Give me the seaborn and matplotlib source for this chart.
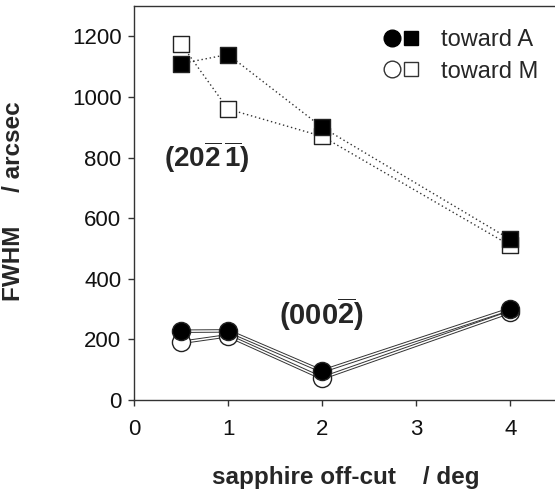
import numpy as np
import pandas as pd
import seaborn as sns
import matplotlib
matplotlib.use("Agg")
import matplotlib.pyplot as plt
from matplotlib.lines import Line2D
from matplotlib.legend_handler import HandlerTuple

# sapphire off-cut angles (deg)
offcut = [0.5, 1, 2, 4]

# (20-2-1) reflection FWHM (arcsec)
fwhm_2021_A = [1110, 1140, 900, 530]
fwhm_2021_M = [1175, 960, 870, 510]

# (000-2) reflection FWHM (arcsec)
fwhm_0002_A = [227, 228, 95, 300]
fwhm_0002_M = [190, 212, 72, 290]

x_ticks = [0, 1, 2, 3, 4]
y_ticks = [0, 200, 400, 600, 800, 1000, 1200]

sns.set_theme(style="white")
plt.rcParams["font.family"] = ["Liberation Sans", "DejaVu Sans"]
plt.rcParams["mathtext.fontset"] = "custom"
plt.rcParams["mathtext.rm"] = "Liberation Sans:bold"
plt.rcParams["mathtext.bf"] = "Liberation Sans:bold"

df = pd.DataFrame({
    "offcut": offcut * 4,
    "fwhm": fwhm_2021_A + fwhm_2021_M + fwhm_0002_A + fwhm_0002_M,
    "series": (["2021_A"] * 4 + ["2021_M"] * 4 + ["0002_A"] * 4 + ["0002_M"] * 4),
})

fig = plt.figure(figsize=(5.55, 5.01), dpi=100)
ax = fig.add_axes([0.2414, 0.2016, 0.7626, 0.7864])

# dotted lines for the (20-2-1) data
for s in ["2021_M", "2021_A"]:
    sub = df[df.series == s]
    sns.lineplot(data=sub, x="offcut", y="fwhm", ax=ax, color="#333333",
                 linestyle=(0, (1, 2)), linewidth=1.0, estimator=None, sort=False)

# double (outlined) lines for the (000-2) data
for s in ["0002_M", "0002_A"]:
    sub = df[df.series == s]
    sns.lineplot(data=sub, x="offcut", y="fwhm", ax=ax, color="#333333",
                 linewidth=2.5, estimator=None, sort=False)
    sns.lineplot(data=sub, x="offcut", y="fwhm", ax=ax, color="white",
                 linewidth=1.1, estimator=None, sort=False)

# markers
def markers(s, marker, face, size):
    sub = df[df.series == s]
    sns.scatterplot(data=sub, x="offcut", y="fwhm", ax=ax, marker=marker,
                    s=size, facecolor=face, edgecolor="#222222", linewidth=1.0,
                    zorder=5)

markers("2021_M", "s", "white", 130)
markers("2021_A", "s", "black", 130)
markers("0002_M", "o", "white", 170)
markers("0002_A", "o", "black", 170)

ax.set_xlim(0, 4.5)
ax.set_ylim(0, 1300)
ax.set_xticks(x_ticks)
ax.set_yticks(y_ticks)
ax.set_xticklabels([str(v) for v in x_ticks])
ax.set_yticklabels([str(v) for v in y_ticks])
ax.tick_params(axis="both", which="major", direction="out", length=4, width=1,
               color="#333333", labelsize=16, labelcolor="#111111",
               bottom=True, left=True)
ax.tick_params(axis="x", pad=10)
ax.tick_params(axis="y", pad=5)
for sp in ax.spines.values():
    sp.set_color("#333333")
    sp.set_linewidth(1.0)

ax.set_xlabel("sapphire off-cut    / deg", fontsize=17.5, fontweight="bold")
ax.set_ylabel("FWHM     / arcsec", fontsize=17.5, fontweight="bold")
ax.xaxis.set_label_coords(0.5, -0.168)
ax.yaxis.set_label_coords(-0.258, 0.505)

ax.text(0.77, 801, r"(20$\overline{\mathbf{2}}\,\overline{\mathbf{1}}$)",
        fontsize=20, fontweight="bold", ha="center", va="center")
ax.text(1.99, 284, r"(000$\overline{\mathbf{2}}$)",
        fontsize=21, fontweight="bold", ha="center", va="center")

hA = (Line2D([], [], marker="o", color="none", markerfacecolor="black",
             markeredgecolor="black", markersize=12),
      Line2D([], [], marker="s", color="none", markerfacecolor="black",
             markeredgecolor="black", markersize=10))
hM = (Line2D([], [], marker="o", color="none", markerfacecolor="white",
             markeredgecolor="#333333", markersize=12),
      Line2D([], [], marker="s", color="none", markerfacecolor="white",
             markeredgecolor="#333333", markersize=10))
ax.legend([hA, hM], ["toward A", "toward M"],
          handler_map={tuple: HandlerTuple(ndivide=None, pad=0.0)},
          loc="upper right", bbox_to_anchor=(0.99, 0.977), frameon=False,
          fontsize=17, handlelength=1.6, handletextpad=0.9,
          labelspacing=0.4, borderaxespad=0.2)

fig.savefig("out.png", dpi=100)
